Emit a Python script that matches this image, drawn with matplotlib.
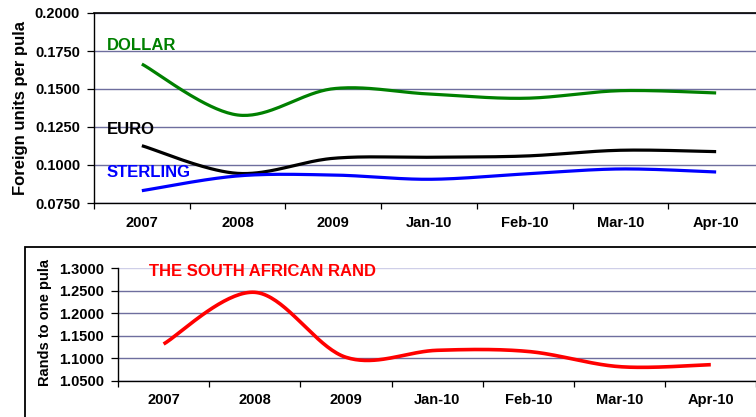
import numpy as np
import matplotlib
matplotlib.use("Agg")
import matplotlib.pyplot as plt
from matplotlib.patches import Rectangle

plt.rcParams['font.family'] = ['Liberation Sans', 'DejaVu Sans']
plt.rcParams['font.weight'] = 'bold'

# Exchange rates of the pula
periods = ["2007", "2008", "2009", "Jan-10", "Feb-10", "Mar-10", "Apr-10"]
dollar = [0.1664, 0.1329, 0.1502, 0.1467, 0.1439, 0.1489, 0.1474]
euro = [0.1127, 0.0945, 0.1044, 0.1051, 0.1059, 0.1097, 0.1088]
sterling = [0.0831, 0.0928, 0.0934, 0.0906, 0.0941, 0.0974, 0.0954]
rand = [1.1316, 1.2466, 1.1020, 1.1176, 1.1150, 1.0812, 1.0856]

top_ticks = [0.075, 0.100, 0.125, 0.150, 0.175, 0.200]
bottom_ticks = [1.05, 1.10, 1.15, 1.20, 1.25, 1.30]

GRID = "#6e6e9e"
LIGHT_GRID = "#cfcfe8"
W, H = 756, 417


def smooth(values, n=40):
    """Smoothed line through the points (Catmull-Rom style Bezier segments)."""
    pts = np.column_stack([np.arange(len(values), dtype=float), np.asarray(values, float)])
    ext = np.vstack([pts[0], pts, pts[-1]])
    t = np.linspace(0, 1, n)[:, None]
    out = []
    for i in range(len(pts) - 1):
        p0, p1, p2, p3 = ext[i], ext[i + 1], ext[i + 2], ext[i + 3]
        c1 = p1 + (p2 - p0) / 6.0
        c2 = p2 - (p3 - p1) / 6.0
        seg = ((1 - t) ** 3) * p1 + 3 * ((1 - t) ** 2) * t * c1 + 3 * (1 - t) * t ** 2 * c2 + t ** 3 * p2
        out.append(seg if i == 0 else seg[1:])
    seg = np.vstack(out)
    return seg[:, 0], seg[:, 1]


def style_axes(ax, ticks, fmt):
    n = len(periods)
    ax.set_xlim(-0.5, n - 0.5)
    ax.set_ylim(ticks[0], ticks[-1])
    ax.set_yticks(ticks)
    ax.set_yticklabels([fmt.format(v) for v in ticks], fontsize=10.5, fontweight='bold')
    ax.set_xticks(range(n))
    ax.set_xticklabels(periods, fontsize=10.5, fontweight='bold')
    ax.set_xticks(np.arange(-0.5, n, 1.0), minor=True)
    ax.tick_params(axis='x', which='major', length=0, pad=9)
    ax.tick_params(axis='x', which='minor', length=4, width=0.9, direction='out')
    ax.tick_params(axis='y', length=5, width=0.9, direction='out', pad=5)
    ax.spines['right'].set_visible(False)
    for s in ('left', 'bottom'):
        ax.spines[s].set_linewidth(1.0)
    ax.grid(axis='y', color=GRID, linewidth=1.0)
    ax.set_axisbelow(True)


fig = plt.figure(figsize=(W / 100, H / 100), dpi=100)

# Frame around the rand panel
fig.patches.append(Rectangle((25 / W, -0.1), 1.2, 1 - 246.7 / H + 0.1,
                             transform=fig.transFigure, fill=False,
                             edgecolor='black', linewidth=1.3))

# Top panel: dollar, euro and sterling
ax1 = fig.add_axes([94 / W, 1 - 203 / H, 670 / W, 190 / H])
style_axes(ax1, top_ticks, "{:.4f}")
ax1.spines['top'].set_linewidth(1.2)
for vals, col in ((dollar, "#008000"), (euro, "#000000"), (sterling, "#0000ff")):
    x, y = smooth(vals)
    ax1.plot(x, y, color=col, linewidth=2.3, solid_capstyle='butt')

fig.text(21 / W, 1 - 108 / H, "Foreign units per pula", rotation=90,
         ha='center', va='center', fontsize=12, fontweight='bold')
fig.text(107 / W, 1 - 50 / H, "DOLLAR", color="#008000", fontsize=12,
         fontweight='bold', ha='left', va='baseline')
fig.text(107 / W, 1 - 134 / H, "EURO", color="#000000", fontsize=12,
         fontweight='bold', ha='left', va='baseline')
fig.text(107 / W, 1 - 177.3 / H, "STERLING", color="#0000ff", fontsize=12,
         fontweight='bold', ha='left', va='baseline')

# Bottom panel: South African rand
ax2 = fig.add_axes([118 / W, 1 - 380.7 / H, 638.4 / W, 112.4 / H])
style_axes(ax2, bottom_ticks, "{:.4f}")
ax2.spines['top'].set_visible(False)
ax2.get_ygridlines()[-1].set_color(LIGHT_GRID)
x, y = smooth(rand)
ax2.plot(x, y, color="#ff0000", linewidth=2.6, solid_capstyle='butt')

fig.text(45 / W, 1 - 323 / H, "Rands to one pula", rotation=90,
         ha='center', va='center', fontsize=10.5, fontweight='bold')
fig.text(149 / W, 1 - 276 / H, "THE SOUTH AFRICAN RAND", color="#ff0000",
         fontsize=12, fontweight='bold', ha='left', va='baseline')

fig.savefig("out.png", dpi=100)
